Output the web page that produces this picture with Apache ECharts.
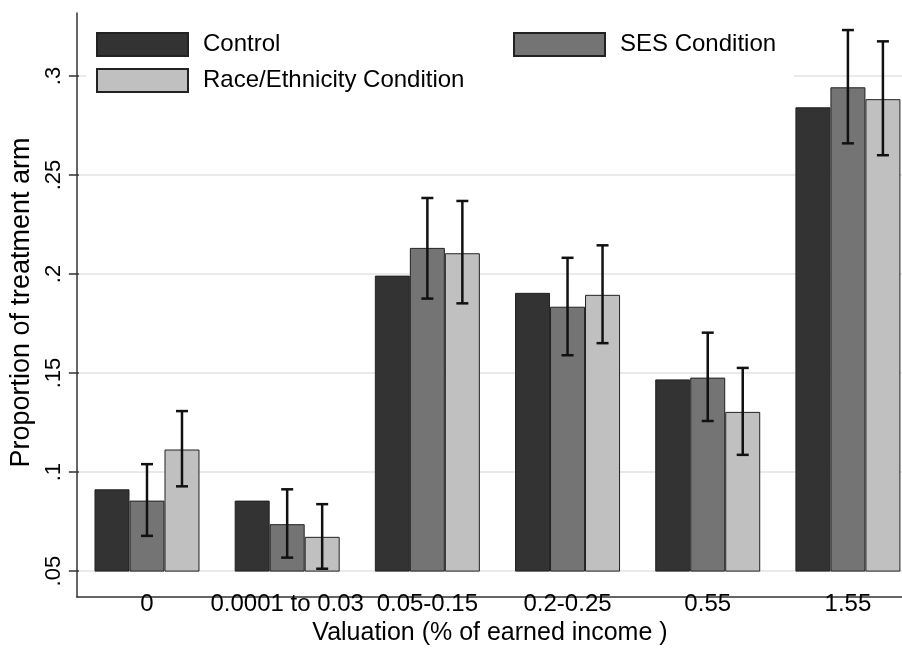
<!DOCTYPE html>
<html>
<head>
<meta charset="utf-8">
<script src="https://cdn.jsdelivr.net/npm/echarts@6/dist/echarts.min.js"></script>
<style>
html,body{margin:0;padding:0;background:#fff;overflow:hidden;width:902px;height:651px;}
#chart{width:920px;height:651px;}
</style>
</head>
<body>
<div id="chart"></div>
<script>
const categories = ['0', '0.0001 to 0.03', '0.05-0.15', '0.2-0.25', '0.55', '1.55'];
const control = [0.0913, 0.0856, 0.1992, 0.1905, 0.1468, 0.2842];
const ses = [0.0856, 0.0737, 0.2132, 0.1835, 0.1477, 0.2943];
const race = [0.1114, 0.0673, 0.2105, 0.1895, 0.1304, 0.2883];
const sesLow = [0.0678, 0.0568, 0.1876, 0.1590, 0.1258, 0.2660];
const sesHigh = [0.1040, 0.0913, 0.2384, 0.2082, 0.1704, 0.3232];
const raceLow = [0.0928, 0.0512, 0.1852, 0.1651, 0.1087, 0.2600];
const raceHigh = [0.1308, 0.0838, 0.2369, 0.2145, 0.1526, 0.3175];
const yTickLabels = ['.05', '.1', '.15', '.2', '.25', '.3'];

const FONT = 'Liberation Sans, Arial, Helvetica, sans-serif';
const BAR_W = 35;

function errData(lo, hi) {
  return categories.map((c, i) => [i, hi[i], lo[i]]);
}
function errRender(offsetIdx) {
  return function (params, api) {
    const x = api.value(0);
    const top = api.coord([x, api.value(1)]);
    const bot = api.coord([x, api.value(2)]);
    const cx = top[0] + offsetIdx * BAR_W;
    const hw = 6;
    const st = { stroke: '#111', lineWidth: 2.5 };
    return {
      type: 'group',
      children: [
        { type: 'line', shape: { x1: cx, y1: top[1], x2: cx, y2: bot[1] }, style: st },
        { type: 'line', shape: { x1: cx - hw, y1: top[1], x2: cx + hw, y2: top[1] }, style: st },
        { type: 'line', shape: { x1: cx - hw, y1: bot[1], x2: cx + hw, y2: bot[1] }, style: st }
      ]
    };
  };
}

const chart = echarts.init(document.getElementById('chart'), null, { renderer: 'canvas' });
const barStyle = (c) => ({ color: c, borderColor: '#222', borderWidth: 1 });
const legendText = { fontFamily: FONT, fontSize: 24, color: '#000', lineHeight: 23, padding: [0, 0, 0, 10] };

chart.setOption({
  backgroundColor: '#fff',
  animation: false,
  textStyle: { fontFamily: FONT },
  grid: [
    { left: 75, right: 2, top: 76, bottom: 70 },
    { left: 77, right: 0, top: 13, bottom: 54 }
  ],
  legend: [
    {
      orient: 'vertical', left: 86, top: 22, padding: [10, 40, 10, 10],
      itemGap: 11, itemWidth: 91, itemHeight: 23, selectedMode: false, icon: 'rect',
      backgroundColor: '#fff',
      data: ['Control', 'Race/Ethnicity Condition'],
      textStyle: legendText
    },
    {
      orient: 'vertical', left: 503, top: 22, padding: [10, 18, 44, 10],
      itemGap: 11, itemWidth: 91, itemHeight: 23, selectedMode: false, icon: 'rect',
      backgroundColor: '#fff',
      data: ['SES Condition'],
      textStyle: legendText
    }
  ],
  xAxis: [
    {
      type: 'category', gridIndex: 0, data: categories, offset: 16,
      axisLine: { show: false }, axisTick: { show: false },
      axisLabel: { interval: 0, fontSize: 24, color: '#000', margin: 5, fontFamily: FONT },
      name: 'Valuation (% of earned income )', nameLocation: 'middle', nameGap: 26,
      nameTextStyle: { fontSize: 25, color: '#000', fontFamily: FONT, padding: [0, 15, 0, 0] }
    },
    {
      type: 'value', gridIndex: 1, min: 0, max: 1,
      axisLine: { show: true, lineStyle: { color: '#333', width: 1.5 } },
      axisTick: { show: false }, axisLabel: { show: false }, splitLine: { show: false }
    }
  ],
  yAxis: [
    {
      type: 'value', gridIndex: 0, min: 0.05, max: 0.3, interval: 0.05, offset: -2,
      axisLine: { show: false },
      axisTick: { show: true, length: 10, lineStyle: { color: '#333', width: 1.5 } },
      axisLabel: {
        rotate: 90, fontSize: 22, color: '#000', margin: 14, fontFamily: FONT,
        formatter: (v, i) => yTickLabels[i] !== undefined ? yTickLabels[i] : ''
      },
      splitLine: { show: true, lineStyle: { color: '#e3e3e3', width: 1.5 } },
      name: 'Proportion of treatment arm', nameLocation: 'middle', nameGap: 42, nameRotate: 90,
      nameTextStyle: { fontSize: 27, color: '#000', fontFamily: FONT, padding: [0, 0, 0, 42] }
    },
    {
      type: 'value', gridIndex: 1, min: 0, max: 1,
      axisLine: { show: true, lineStyle: { color: '#333', width: 1.5 } },
      axisTick: { show: false }, axisLabel: { show: false }, splitLine: { show: false }
    }
  ],
  series: [
    { name: 'Control', type: 'bar', xAxisIndex: 0, yAxisIndex: 0, data: control, barWidth: BAR_W, barGap: '0%', itemStyle: barStyle('#333333') },
    { name: 'SES Condition', type: 'bar', xAxisIndex: 0, yAxisIndex: 0, data: ses, barWidth: BAR_W, barGap: '0%', itemStyle: barStyle('#747474') },
    { name: 'Race/Ethnicity Condition', type: 'bar', xAxisIndex: 0, yAxisIndex: 0, data: race, barWidth: BAR_W, barGap: '0%', itemStyle: barStyle('#c0c0c0') },
    { name: 'SES CI', type: 'custom', xAxisIndex: 0, yAxisIndex: 0, z: 5, renderItem: errRender(0), data: errData(sesLow, sesHigh), encode: { x: 0, y: [1, 2] } },
    { name: 'Race CI', type: 'custom', xAxisIndex: 0, yAxisIndex: 0, z: 5, renderItem: errRender(1), data: errData(raceLow, raceHigh), encode: { x: 0, y: [1, 2] } }
  ]
});
</script>
</body>
</html>
